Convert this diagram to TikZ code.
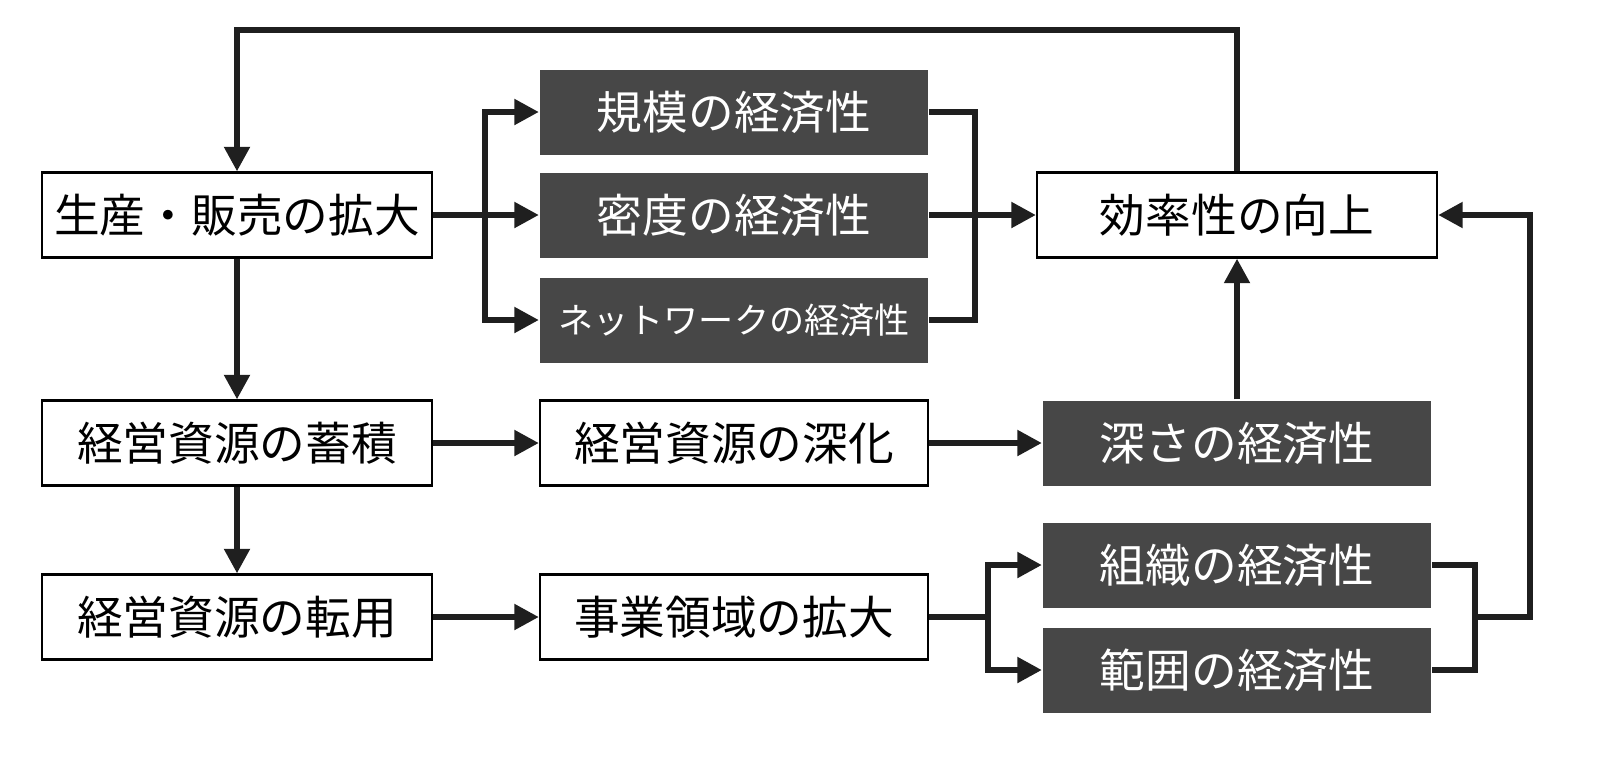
\documentclass[tikz,border=0pt]{standalone}
\usepackage{fontspec}
\setmainfont{Noto Sans CJK JP}
\usetikzlibrary{arrows.meta}

\begin{document}
\begin{tikzpicture}[x=1mm,y=-1mm,
    box/.style={draw=black,line width=0.6pt,minimum width=39mm,minimum height=8.5mm,
        inner sep=0pt,font=\fontsize{13}{15}\selectfont},
    dark/.style={box,draw=none,fill=black!72,text=white,minimum width=38.8mm},
    flow/.style={line width=1.8pt,color=black!88},
    arr/.style={flow,-{Triangle[length=7pt,width=7pt]}}]

        % Left column
        \node[box] (expand) at (23.7,21.5) {生産・販売の拡大};
        \node[box] (stock) at (23.7,44.3) {経営資源の蓄積};
        \node[box] (divert) at (23.7,61.7) {経営資源の転用};

        % Middle column
        \node[dark] (scale) at (73.4,11.2) {規模の経済性};
        \node[dark] (density) at (73.4,21.5) {密度の経済性};
        \node[dark] (network) at (73.4,32) {\fontsize{10}{12}\selectfont ネットワークの経済性};
        \node[box,minimum width=38.8mm] (deepen) at (73.4,44.3) {経営資源の深化};
        \node[box,minimum width=38.8mm] (domain) at (73.4,61.7) {事業領域の拡大};

        % Right column
        \node[box,minimum width=40mm] (effic) at (123.7,21.5) {効率性の向上};
        \node[dark] (depth) at (123.7,44.3) {深さの経済性};
        \node[dark] (org) at (123.7,56.5) {組織の経済性};
        \node[dark] (scope) at (123.7,67) {範囲の経済性};

        % Feedback loop
        \draw[arr] (effic.north) |- (23.7,3) -- (expand.north);

        % Split to the three economies
        \draw[flow] (expand.east) -- (48.5,21.5);
        \draw[arr] (48.5,21.5) |- (scale.west);
        \draw[arr] (48.5,21.5) -- (density.west);
        \draw[arr] (48.5,21.5) |- (network.west);

        % Merge into efficiency
        \draw[flow] (scale.east) -| (97.5,21.5);
        \draw[flow] (network.east) -| (97.5,21.5);
        \draw[arr] (density.east) -- (effic.west);

        % Downward chain
        \draw[arr] (expand.south) -- (stock.north);
        \draw[arr] (stock.south) -- (divert.north);

        % Depth row
        \draw[arr] (stock.east) -- (deepen.west);
        \draw[arr] (deepen.east) -- (depth.west);
        \draw[arr] (depth.north) -- (effic.south);

        % Domain row
        \draw[arr] (divert.east) -- (domain.west);
        \draw[flow] (domain.east) -- (98.8,61.7);
        \draw[arr] (98.8,61.7) |- (org.west);
        \draw[arr] (98.8,61.7) |- (scope.west);
        \draw[flow] (org.east) -| (147.5,61.7);
        \draw[flow] (scope.east) -| (147.5,61.7);
        \draw[arr] (147.5,61.7) -| (153,21.5) -- (effic.east);

        \pgfresetboundingbox
        \path[use as bounding box] (0,0) rectangle (161.5,75.9);
\end{tikzpicture}
\end{document}
